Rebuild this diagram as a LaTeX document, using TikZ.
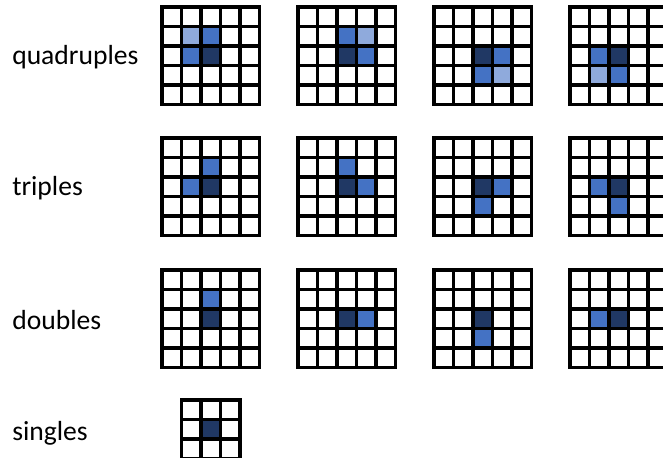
\documentclass[tikz,border=0pt]{standalone}
\usepackage{fontspec}
\setmainfont{Carlito}
\usetikzlibrary{positioning}
\definecolor{cellLight}{RGB}{143,170,220}
\definecolor{cellMid}{RGB}{68,114,196}
\definecolor{cellDark}{RGB}{32,56,100}

% n x n grid lines of one board, in board units
\newcommand{\boardlines}[1]{%
  \foreach \k in {0,...,#1}{
    \draw[gridline] (\k,0) -- (\k,#1);
    \draw[gridline] (0,\k) -- (#1,\k);
  }}

\begin{document}
\begin{tikzpicture}[
    x=0.75pt, y=-0.75pt,
    rowlabel/.style={anchor=west, inner sep=0pt, font=\fontsize{20.7}{24}\selectfont},
    gridline/.style={line width=2.3pt, black, line cap=rect},
    board/.style={shift={#1}, x=14.625pt, y=-14.625pt},
    lo/.style={fill=cellLight},
    md/.style={fill=cellMid},
    dk/.style={fill=cellDark}
]
    \useasboundingbox (0,0) rectangle (663,457);

    \node[rowlabel] (quad) at (12,57.5) {quadruples};
    \node[rowlabel] (trip) at (12,188.5) {triples};
    \node[rowlabel] (doub) at (12,320.5) {doubles};
    \node[rowlabel] (sing) at (12,433) {singles};

    % quadruples
    \begin{scope}[board={(162,7)}]
        \fill[lo] (1,1) rectangle ++(1,1); \fill[md] (2,1) rectangle ++(1,1);
        \fill[md] (1,2) rectangle ++(1,1); \fill[dk] (2,2) rectangle ++(1,1);
        \boardlines{5}
    \end{scope}
    \begin{scope}[board={(298,7)}]
        \fill[md] (2,1) rectangle ++(1,1); \fill[lo] (3,1) rectangle ++(1,1);
        \fill[dk] (2,2) rectangle ++(1,1); \fill[md] (3,2) rectangle ++(1,1);
        \boardlines{5}
    \end{scope}
    \begin{scope}[board={(434,7)}]
        \fill[dk] (2,2) rectangle ++(1,1); \fill[md] (3,2) rectangle ++(1,1);
        \fill[md] (2,3) rectangle ++(1,1); \fill[lo] (3,3) rectangle ++(1,1);
        \boardlines{5}
    \end{scope}
    \begin{scope}[board={(570,7)}]
        \fill[md] (1,2) rectangle ++(1,1); \fill[dk] (2,2) rectangle ++(1,1);
        \fill[lo] (1,3) rectangle ++(1,1); \fill[md] (2,3) rectangle ++(1,1);
        \boardlines{5}
    \end{scope}

    % triples
    \begin{scope}[board={(162,138)}]
        \fill[md] (2,1) rectangle ++(1,1);
        \fill[md] (1,2) rectangle ++(1,1); \fill[dk] (2,2) rectangle ++(1,1);
        \boardlines{5}
    \end{scope}
    \begin{scope}[board={(298,138)}]
        \fill[md] (2,1) rectangle ++(1,1);
        \fill[dk] (2,2) rectangle ++(1,1); \fill[md] (3,2) rectangle ++(1,1);
        \boardlines{5}
    \end{scope}
    \begin{scope}[board={(434,138)}]
        \fill[dk] (2,2) rectangle ++(1,1); \fill[md] (3,2) rectangle ++(1,1);
        \fill[md] (2,3) rectangle ++(1,1);
        \boardlines{5}
    \end{scope}
    \begin{scope}[board={(570,138)}]
        \fill[md] (1,2) rectangle ++(1,1); \fill[dk] (2,2) rectangle ++(1,1);
        \fill[md] (2,3) rectangle ++(1,1);
        \boardlines{5}
    \end{scope}

    % doubles
    \begin{scope}[board={(162,270)}]
        \fill[md] (2,1) rectangle ++(1,1);
        \fill[dk] (2,2) rectangle ++(1,1);
        \boardlines{5}
    \end{scope}
    \begin{scope}[board={(298,270)}]
        \fill[dk] (2,2) rectangle ++(1,1); \fill[md] (3,2) rectangle ++(1,1);
        \boardlines{5}
    \end{scope}
    \begin{scope}[board={(434,270)}]
        \fill[dk] (2,2) rectangle ++(1,1);
        \fill[md] (2,3) rectangle ++(1,1);
        \boardlines{5}
    \end{scope}
    \begin{scope}[board={(570,270)}]
        \fill[md] (1,2) rectangle ++(1,1); \fill[dk] (2,2) rectangle ++(1,1);
        \boardlines{5}
    \end{scope}

    % singles
    \begin{scope}[board={(181.5,400)}]
        \fill[dk] (1,1) rectangle ++(1,1);
        \boardlines{3}
    \end{scope}
\end{tikzpicture}
\end{document}
